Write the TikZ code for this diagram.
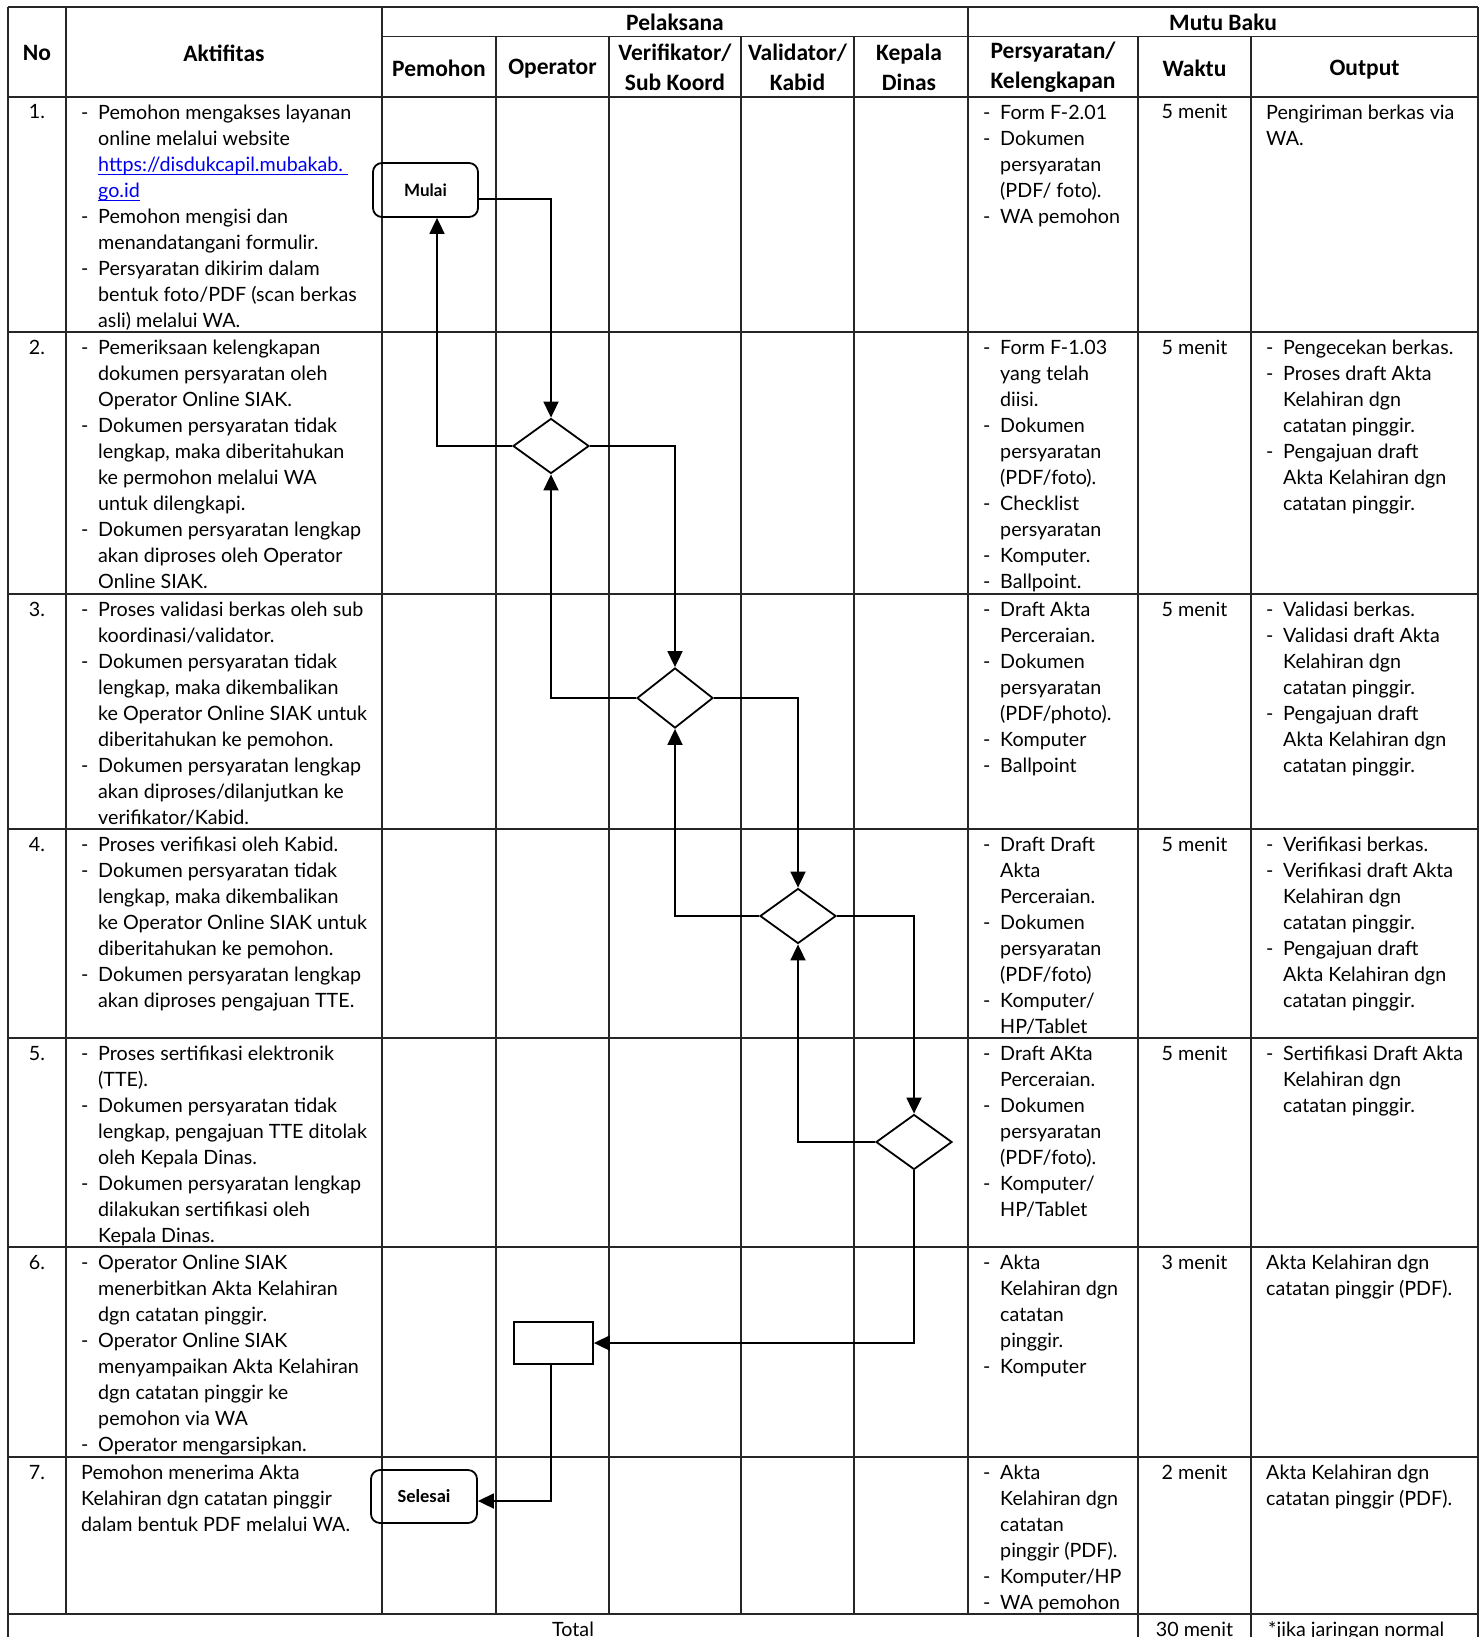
\documentclass[tikz,border=0pt]{standalone}
\usepackage{fontspec}
\setmainfont{Lato}
\newfontfamily\hdrfont{Carlito}
\usetikzlibrary{shapes.geometric,arrows.meta}
\definecolor{linkblue}{RGB}{0,0,238}
\newcommand\D{\makebox[17pt][l]{-}}
\newcommand\I{\hspace*{17pt}}
\newcommand\lnk[1]{\setbox0\hbox{#1}\rlap{\rule[-3.5pt]{\wd0}{1.3pt}}\box0}
\begin{document}
\begin{tikzpicture}[x=1pt,y=-1pt,
  grid/.style={line width=1.3pt, black!85},
  body/.style={inner sep=0pt, anchor=north west, align=left, font=\fontsize{19.7}{26}\selectfont,
    execute at begin node={\rule{0pt}{20pt}}, yshift=14pt},
  mid/.style={inner sep=0pt, anchor=base, align=center, font=\fontsize{19.7}{26}\selectfont},
  hdr/.style={inner sep=0pt, anchor=center, align=center, font=\hdrfont\bfseries\fontsize{23.5}{30}\selectfont},
  term/.style={draw, line width=1.8pt, rounded corners=9pt, minimum width=105pt, minimum height=54pt, inner sep=0pt},
  dia/.style={draw, diamond, line width=1.8pt, minimum width=76pt, minimum height=55pt, inner sep=0pt},
  proc/.style={draw, rectangle, line width=1.8pt, minimum width=79pt, minimum height=42pt, inner sep=0pt},
  arr/.style={line width=1.8pt, -{Triangle[length=16pt,width=15pt]}}]
\useasboundingbox (0,0) rectangle (1481,1637);
\fill[white] (0,0) rectangle (1481,1637);

% ---------- grid ----------
\draw[grid] (8,7) -- (1478,7);
\draw[grid] (382,36.5) -- (1478,36.5);
\foreach \yy in {97,332,594,829,1038,1247,1457,1614}
  \draw[grid] (8,\yy) -- (1478,\yy);
\draw[grid] (8,7) -- (8,1637);
\draw[grid] (1478,7) -- (1478,1637);
\foreach \xx in {66,382,968}
  \draw[grid] (\xx,7) -- (\xx,1614);
\foreach \xx in {496,609,741,854}
  \draw[grid] (\xx,36.5) -- (\xx,1614);
\foreach \xx in {1138,1251}
  \draw[grid] (\xx,36.5) -- (\xx,1637);

% ---------- header ----------
\node[hdr] (hNo) at (37,53) {No};
\node[hdr] (hAkt) at (224,53) {Aktifitas};
\node[hdr] (hPel) at (675,22) {Pelaksana};
\node[hdr] (hMutu) at (1223,22) {Mutu Baku};
\node[hdr] (hPem) at (439,68.5) {Pemohon};
\node[hdr] (hOp) at (552.5,68.5) {Operator};
\node[hdr] (hVer) at (675,67) {Verifikator/\\Sub Koord};
\node[hdr] (hVal) at (797.5,67) {Validator/\\Kabid};
\node[hdr] (hKep) at (909,67) {Kepala\\Dinas};
\node[hdr] (hPer) at (1053,67) {Persyaratan/\\Kelengkapan};
\node[hdr] (hWak) at (1194.5,68.5) {Waktu};
\node[hdr] (hOut) at (1364.5,70) {Output};

% ---------- row 1 ----------
\node[mid] (n1) at (37,119) {1.};
\node[body] (a1) at (81,119) {\D Pemohon mengakses layanan\\
\I online melalui website\\
\I {\color{linkblue}\lnk{https://disdukcapil.mubakab.\hphantom{i}}}\\
\I {\color{linkblue}\lnk{go.id}}\\
\D Pemohon mengisi dan\\
\I menandatangani formulir.\\
\D Persyaratan dikirim dalam\\
\I bentuk foto/PDF (scan berkas\\
\I asli) melalui WA.};
\node[body] (p1) at (983,119) {\D Form F-2.01\\
\D Dokumen\\
\I persyaratan\\
\I (PDF/ foto).\\
\D WA pemohon};
\node[mid] (w1) at (1194.5,119) {5 menit};
\node[body] (o1) at (1266,119) {Pengiriman berkas via\\WA.};

% ---------- row 2 ----------
\node[mid] (n2) at (37,354) {2.};
\node[body] (a2) at (81,354) {\D Pemeriksaan kelengkapan\\
\I dokumen persyaratan oleh\\
\I Operator Online SIAK.\\
\D Dokumen persyaratan tidak\\
\I lengkap, maka diberitahukan\\
\I ke permohon melalui WA\\
\I untuk dilengkapi.\\
\D Dokumen persyaratan lengkap\\
\I akan diproses oleh Operator\\
\I Online SIAK.};
\node[body] (p2) at (983,354) {\D Form F-1.03\\
\I yang telah\\
\I diisi.\\
\D Dokumen\\
\I persyaratan\\
\I (PDF/foto).\\
\D Checklist\\
\I persyaratan\\
\D Komputer.\\
\D Ballpoint.};
\node[mid] (w2) at (1194.5,354) {5 menit};
\node[body] (o2) at (1266,354) {\D Pengecekan berkas.\\
\D Proses draft Akta\\
\I Kelahiran dgn\\
\I catatan pinggir.\\
\D Pengajuan draft\\
\I Akta Kelahiran dgn\\
\I catatan pinggir.};

% ---------- row 3 ----------
\node[mid] (n3) at (37,616) {3.};
\node[body] (a3) at (81,616) {\D Proses validasi berkas oleh sub\\
\I koordinasi/validator.\\
\D Dokumen persyaratan tidak\\
\I lengkap, maka dikembalikan\\
\I ke Operator Online SIAK untuk\\
\I diberitahukan ke pemohon.\\
\D Dokumen persyaratan lengkap\\
\I akan diproses/dilanjutkan ke\\
\I verifikator/Kabid.};
\node[body] (p3) at (983,616) {\D Draft Akta\\
\I Perceraian.\\
\D Dokumen\\
\I persyaratan\\
\I (PDF/photo).\\
\D Komputer\\
\D Ballpoint};
\node[mid] (w3) at (1194.5,616) {5 menit};
\node[body] (o3) at (1266,616) {\D Validasi berkas.\\
\D Validasi draft Akta\\
\I Kelahiran dgn\\
\I catatan pinggir.\\
\D Pengajuan draft\\
\I Akta Kelahiran dgn\\
\I catatan pinggir.};

% ---------- row 4 ----------
\node[mid] (n4) at (37,851) {4.};
\node[body] (a4) at (81,851) {\D Proses verifikasi oleh Kabid.\\
\D Dokumen persyaratan tidak\\
\I lengkap, maka dikembalikan\\
\I ke Operator Online SIAK untuk\\
\I diberitahukan ke pemohon.\\
\D Dokumen persyaratan lengkap\\
\I akan diproses pengajuan TTE.};
\node[body] (p4) at (983,851) {\D Draft Draft\\
\I Akta\\
\I Perceraian.\\
\D Dokumen\\
\I persyaratan\\
\I (PDF/foto)\\
\D Komputer/\\
\I HP/Tablet};
\node[mid] (w4) at (1194.5,851) {5 menit};
\node[body] (o4) at (1266,851) {\D Verifikasi berkas.\\
\D Verifikasi draft Akta\\
\I Kelahiran dgn\\
\I catatan pinggir.\\
\D Pengajuan draft\\
\I Akta Kelahiran dgn\\
\I catatan pinggir.};

% ---------- row 5 ----------
\node[mid] (n5) at (37,1060) {5.};
\node[body] (a5) at (81,1060) {\D Proses sertifikasi elektronik\\
\I (TTE).\\
\D Dokumen persyaratan tidak\\
\I lengkap, pengajuan TTE ditolak\\
\I oleh Kepala Dinas.\\
\D Dokumen persyaratan lengkap\\
\I dilakukan sertifikasi oleh\\
\I Kepala Dinas.};
\node[body] (p5) at (983,1060) {\D Draft AKta\\
\I Perceraian.\\
\D Dokumen\\
\I persyaratan\\
\I (PDF/foto).\\
\D Komputer/\\
\I HP/Tablet};
\node[mid] (w5) at (1194.5,1060) {5 menit};
\node[body] (o5) at (1266,1060) {\D Sertifikasi Draft Akta\\
\I Kelahiran dgn\\
\I catatan pinggir.};

% ---------- row 6 ----------
\node[mid] (n6) at (37,1269) {6.};
\node[body] (a6) at (81,1269) {\D Operator Online SIAK\\
\I menerbitkan Akta Kelahiran\\
\I dgn catatan pinggir.\\
\D Operator Online SIAK\\
\I menyampaikan Akta Kelahiran\\
\I dgn catatan pinggir ke\\
\I pemohon via WA\\
\D Operator mengarsipkan.};
\node[body] (p6) at (983,1269) {\D Akta\\
\I Kelahiran dgn\\
\I catatan\\
\I pinggir.\\
\D Komputer};
\node[mid] (w6) at (1194.5,1269) {3 menit};
\node[body] (o6) at (1266,1269) {Akta Kelahiran dgn\\catatan pinggir (PDF).};

% ---------- row 7 ----------
\node[mid] (n7) at (37,1479) {7.};
\node[body] (a7) at (81,1479) {Pemohon menerima Akta\\
Kelahiran dgn catatan pinggir\\
dalam bentuk PDF melalui WA.};
\node[body] (p7) at (983,1479) {\D Akta\\
\I Kelahiran dgn\\
\I catatan\\
\I pinggir (PDF).\\
\D Komputer/HP\\
\D WA pemohon};
\node[mid] (w7) at (1194.5,1479) {2 menit};
\node[body] (o7) at (1266,1479) {Akta Kelahiran dgn\\catatan pinggir (PDF).};

% ---------- total ----------
\node[mid] (tot) at (573,1636) {Total};
\node[mid] (wt) at (1194.5,1636) {30 menit};
\node[mid, anchor=base west] (ot) at (1268,1636) {*jika jaringan normal};

% ---------- flowchart ----------
\node[term, font=\bfseries\fontsize{17}{20}\selectfont] (mulai) at (425.5,190) {Mulai};
\node[dia] (d1) at (551,446) {};
\node[dia, minimum height=60pt] (d2) at (675,698) {};
\node[dia] (d3) at (798,916) {};
\node[dia] (d4) at (914,1142) {};
\node[proc] (box) at (553.5,1343) {};
\node[term, minimum width=106pt, minimum height=53pt, font=\hdrfont\bfseries\fontsize{18.5}{22}\selectfont] (selesai) at (424,1496.5) {Selesai};

\draw[arr] ([yshift=-9pt]mulai.east) -| (d1.north);
\draw[arr] (d1.west) -| ([xshift=11.5pt]mulai.south);
\draw[arr] (d1.east) -| (d2.north);
\draw[arr] (d2.west) -| (d1.south);
\draw[arr] (d2.east) -| (d3.north);
\draw[arr] (d3.west) -| (d2.south);
\draw[arr] (d3.east) -| (d4.north);
\draw[arr] (d4.west) -| (d3.south);
\draw[arr] (d4.south) |- (box.east);
\draw[arr] ([xshift=-2.5pt]box.south) |- ([yshift=-4.5pt]selesai.east);
\end{tikzpicture}
\end{document}
